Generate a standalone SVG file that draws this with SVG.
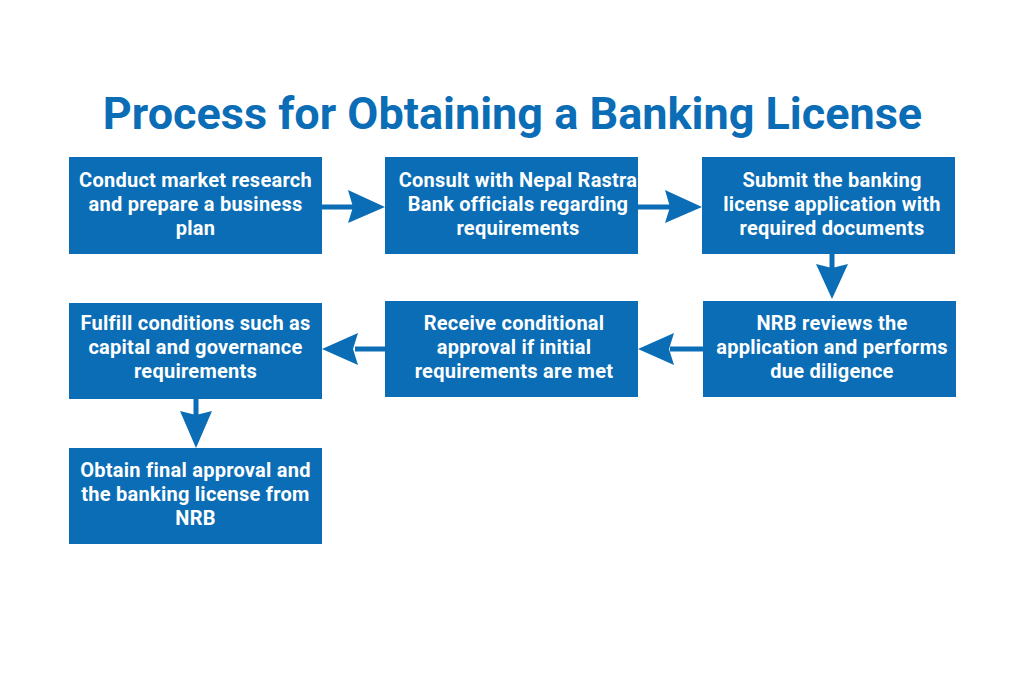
<svg xmlns="http://www.w3.org/2000/svg" width="1024" height="683" viewBox="0 0 1024 683">
<defs>
<style>
.box{fill:#0A6DB5;}
.t{font-family:Roboto,"Liberation Sans",sans-serif;font-weight:700;font-size:20px;letter-spacing:0.25px;fill:#FFFFFF;text-anchor:middle;}
.title{font-family:Roboto,"Liberation Sans",sans-serif;font-weight:700;font-size:45px;fill:#0A6DB5;text-anchor:middle;}
.ln{stroke:#0A6DB5;stroke-width:5;fill:none;}
.hd{fill:#0A6DB5;}
</style>
</defs>
<rect width="1024" height="683" fill="#FFFFFF"/>
<text class="title" x="512.5" y="129">Process for Obtaining a Banking License</text>
<g id="n1"><rect class="box" x="69" y="157" width="253" height="97"/>
<text class="t" x="195.5" y="187">Conduct market research</text>
<text class="t" x="195.5" y="211">and prepare a business</text>
<text class="t" x="195.5" y="235">plan</text></g>
<g id="n2"><rect class="box" x="385" y="157" width="253" height="97"/>
<text class="t" x="518" y="187">Consult with Nepal Rastra</text>
<text class="t" x="518" y="211">Bank officials regarding</text>
<text class="t" x="518" y="235">requirements</text></g>
<g id="n3"><rect class="box" x="702" y="157" width="253" height="97"/>
<text class="t" x="832" y="187">Submit the banking</text>
<text class="t" x="832" y="211">license application with</text>
<text class="t" x="832" y="235">required documents</text></g>
<g id="n4"><rect class="box" x="703" y="301" width="253" height="96"/>
<text class="t" x="832" y="330">NRB reviews the</text>
<text class="t" x="832" y="354">application and performs</text>
<text class="t" x="832" y="378">due diligence</text></g>
<g id="n5"><rect class="box" x="385" y="301" width="253" height="96"/>
<text class="t" x="514" y="330">Receive conditional</text>
<text class="t" x="514" y="354">approval if initial</text>
<text class="t" x="514" y="378">requirements are met</text></g>
<g id="n6"><rect class="box" x="69" y="303" width="253" height="96"/>
<text class="t" x="195.5" y="330">Fulfill conditions such as</text>
<text class="t" x="195.5" y="354">capital and governance</text>
<text class="t" x="195.5" y="378">requirements</text></g>
<g id="n7"><rect class="box" x="69" y="448" width="253" height="96"/>
<text class="t" x="195.5" y="477">Obtain final approval and</text>
<text class="t" x="195.5" y="501">the banking license from</text>
<text class="t" x="195.5" y="525">NRB</text></g>
<g id="connectors">
<line class="ln" x1="322" y1="207" x2="355" y2="207"/>
<path class="hd" d="M385,207 L348,190 L353,207 L348,223 Z"/>
<line class="ln" x1="638" y1="207" x2="672" y2="207"/>
<path class="hd" d="M702,207 L665,190 L670,207 L665,223 Z"/>
<line class="ln" x1="832" y1="254" x2="832" y2="270"/>
<path class="hd" d="M832,299 L816,264 L832,268 L848,264 Z"/>
<line class="ln" x1="703" y1="349" x2="670" y2="349"/>
<path class="hd" d="M638,349 L674,333 L669,349 L674,365 Z"/>
<line class="ln" x1="385" y1="349" x2="355" y2="349"/>
<path class="hd" d="M322,349 L358,333 L353,349 L358,365 Z"/>
<line class="ln" x1="196" y1="399" x2="196" y2="415"/>
<path class="hd" d="M196,448 L180,411 L196,415 L212,411 Z"/>
</g>
</svg>
